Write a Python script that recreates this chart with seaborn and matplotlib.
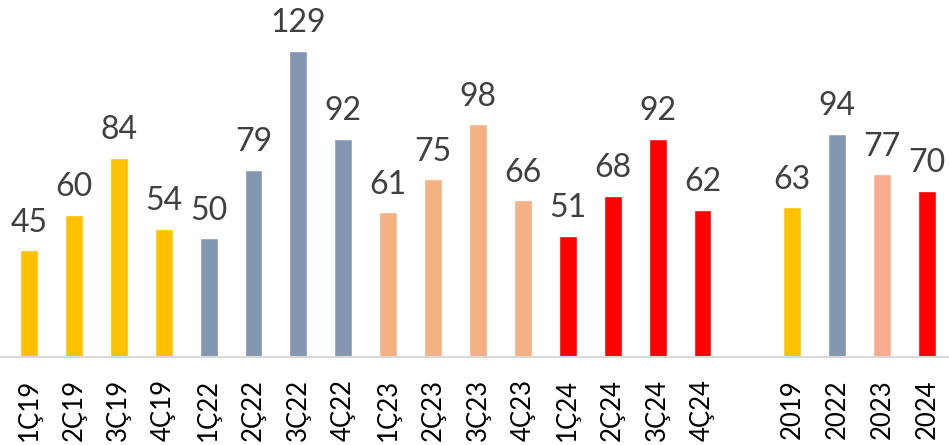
import numpy as np
import pandas as pd
import matplotlib
matplotlib.use("Agg")
import matplotlib.pyplot as plt
import seaborn as sns

# quarterly and yearly values
categories = ['1Ç19', '2Ç19', '3Ç19', '4Ç19',
              '1Ç22', '2Ç22', '3Ç22', '4Ç22',
              '1Ç23', '2Ç23', '3Ç23', '4Ç23',
              '1Ç24', '2Ç24', '3Ç24', '4Ç24',
              '2019', '2022', '2023', '2024']
values = [45, 60, 84, 54,
          50, 79, 129, 92,
          61, 75, 98, 66,
          51, 68, 92, 62,
          63, 94, 77, 70]
# slot positions: one empty slot between quarters and years
positions = list(range(16)) + [17, 18, 19, 20]
bar_colors = ['#FFC000'] * 4 + ['#8497B0'] * 4 + ['#F4B183'] * 4 + ['#FF0000'] * 4 \
    + ['#FFC000', '#8497B0', '#F9AD8E', '#FF0000']

df = pd.DataFrame({'pos': positions, 'value': values, 'cat': categories})

sns.set_style('white')
plt.rcParams['font.family'] = ['Lato', 'DejaVu Sans']

fig = plt.figure(figsize=(9.49, 4.45), dpi=100)
ax = fig.add_axes([0.0, 0.198, 1.0, 0.802])

sns.barplot(data=df, x='pos', y='value', hue='cat', hue_order=categories,
            palette=bar_colors, native_scale=True, width=0.4, dodge=False,
            legend=False, ax=ax, saturation=1)

for cont in ax.containers:
    ax.bar_label(cont, fmt='%d', padding=9, fontsize=23, color='#404040')

ax.set_xlim(-0.646, 20.49)
ax.set_ylim(0, 150.5)
ax.set_xticks(positions)
ax.set_xticklabels(categories, rotation=90, fontsize=18.5, color='black')
ax.tick_params(axis='x', length=0, pad=16)
ax.set_yticks([])
ax.set_xlabel('')
ax.set_ylabel('')
for s in ['left', 'right', 'top']:
    ax.spines[s].set_visible(False)
ax.spines['bottom'].set_color('#D9D9D9')
ax.spines['bottom'].set_linewidth(1.5)

fig.savefig('out.png', dpi=100)
